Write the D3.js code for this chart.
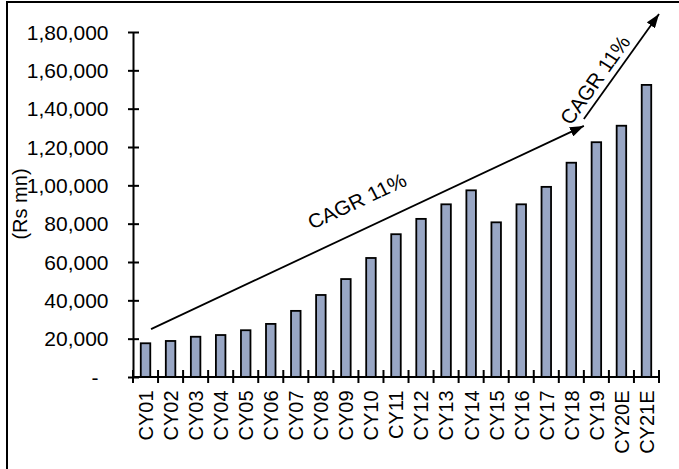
<!DOCTYPE html>
<html>
<head>
<meta charset="utf-8">
<script src="https://cdn.jsdelivr.net/npm/d3@7"></script>
<style>
  html, body { margin: 0; padding: 0; background: #fff; }
  svg { display: block; }
</style>
</head>
<body>
<svg id="chart" width="679" height="469"></svg>
<script>
// Annual revenue, Rs mn (CY20E and CY21E are estimates)
const categories = ["CY01","CY02","CY03","CY04","CY05","CY06","CY07","CY08","CY09","CY10",
  "CY11","CY12","CY13","CY14","CY15","CY16","CY17","CY18","CY19","CY20E","CY21E"];
const revenue = [17600, 18800, 21000, 21900, 24400, 27700, 34500, 42800, 51100, 62100,
  74500, 82500, 90100, 97400, 80700, 90100, 99200, 111800, 122500, 131100, 152400];

const yTicks = [0, 20000, 40000, 60000, 80000, 100000, 120000, 140000, 160000, 180000];
const yTickLabels = ["-", "20,000", "40,000", "60,000", "80,000", "1,00,000", "1,20,000", "1,40,000", "1,60,000", "1,80,000"];
const yTitle = "(Rs mn)";

// Trend arrows in [category position, value] units
const trendArrows = [
  { from: [0.72, 25000], to: [18.0, 131000] },
  { from: [18.0, 134600], to: [21.0, 189400] }
];
const trendLabels = [
  { text: "CAGR 11%", at: [8.94, 91800], arrow: 0 },
  { text: "CAGR 11%", at: [18.45, 155000], arrow: 1 }
];

// Layout & style
const W = 679, H = 469;
const plot = { left: 133, right: 659, top: 32, bottom: 377 };
const FONT = "'Liberation Sans', Arial, Helvetica, sans-serif";
const FS = 20;         // font size
const SX = 1.05;       // horizontal glyph stretch
const barFill = "#98a6c4";

const svg = d3.select("#chart");

const x = d3.scaleBand()
  .domain(categories)
  .range([plot.left, plot.right])
  .paddingInner(0.62)
  .paddingOuter(0.31);

const y = d3.scaleLinear()
  .domain([0, 180000])
  .range([plot.bottom, plot.top]);

// Category position (in band steps) to pixel
const pos = k => x.range()[0] + k * x.step();

// Outer frame
svg.append("rect")
  .attr("x", 7).attr("y", 2)
  .attr("width", W + 20).attr("height", H + 20)
  .attr("fill", "none").attr("stroke", "#000").attr("stroke-width", 2);

// Bars
svg.append("g")
  .selectAll("rect")
  .data(categories.map((c, i) => ({ c, v: revenue[i] })))
  .join("rect")
  .attr("x", d => x(d.c))
  .attr("width", x.bandwidth())
  .attr("y", d => y(d.v))
  .attr("height", d => y(0) - y(d.v))
  .attr("fill", barFill)
  .attr("stroke", "#000")
  .attr("stroke-width", 1.8);

// Y axis
const yAxis = svg.append("g")
  .attr("transform", `translate(${plot.left},0)`)
  .call(d3.axisLeft(y)
    .tickValues(yTicks)
    .tickFormat((d, i) => yTickLabels[i])
    .tickSizeInner(5)
    .tickSizeOuter(0));
yAxis.select(".domain").attr("stroke", "#000").attr("stroke-width", 2);
yAxis.selectAll(".tick line")
  .attr("x1", 6).attr("x2", -5)
  .attr("stroke", "#000").attr("stroke-width", 2);
yAxis.selectAll(".tick text")
  .attr("x", 0)
  .attr("dy", "0.35em")
  .attr("transform", d => `translate(${d === 0 ? -34.5 : -24.5},0) scale(${SX},1)`)
  .attr("fill", "#000")
  .style("font-family", FONT)
  .style("font-size", FS + "px");

// Y axis title
svg.append("text")
  .attr("transform", `translate(27,204) scale(${SX},1) rotate(-90)`)
  .attr("text-anchor", "middle")
  .style("font-family", FONT)
  .style("font-size", FS + "px")
  .attr("fill", "#000")
  .text(yTitle);

// X axis: baseline, boundary ticks, rotated category labels
const xAxis = svg.append("g");
xAxis.append("line")
  .attr("x1", plot.left - 1).attr("x2", plot.right + 1)
  .attr("y1", y(0)).attr("y2", y(0))
  .attr("stroke", "#000").attr("stroke-width", 2);
xAxis.selectAll("line.bound")
  .data(d3.range(categories.length + 1))
  .join("line")
  .attr("class", "bound")
  .attr("x1", k => pos(k)).attr("x2", k => pos(k))
  .attr("y1", y(0) - 7).attr("y2", y(0) + 6)
  .attr("stroke", "#000").attr("stroke-width", 2);
xAxis.selectAll("text")
  .data(categories)
  .join("text")
  .attr("transform", c => `translate(${x(c) + x.bandwidth() / 2},${y(0) + 13.5}) scale(${SX},1) rotate(-90)`)
  .attr("text-anchor", "end")
  .attr("dy", "0.35em")
  .style("font-family", FONT)
  .style("font-size", FS + "px")
  .attr("fill", "#000")
  .text(c => c);

// Arrowhead
svg.append("defs").append("marker")
  .attr("id", "head")
  .attr("markerUnits", "userSpaceOnUse")
  .attr("viewBox", "0 -5 14 10")
  .attr("refX", 14).attr("refY", 0)
  .attr("markerWidth", 14).attr("markerHeight", 10)
  .attr("orient", "auto")
  .append("path")
  .attr("d", "M0,-5L14,0L0,5Z")
  .attr("fill", "#000");

const arrowPts = trendArrows.map(a => ({
  x1: pos(a.from[0]), y1: y(a.from[1]),
  x2: pos(a.to[0]), y2: y(a.to[1])
}));

svg.append("g")
  .selectAll("line")
  .data(arrowPts)
  .join("line")
  .attr("x1", d => d.x1).attr("y1", d => d.y1)
  .attr("x2", d => d.x2).attr("y2", d => d.y2)
  .attr("stroke", "#000").attr("stroke-width", 1.8)
  .attr("marker-end", "url(#head)");

// Trend labels, parallel to their arrows
svg.append("g")
  .selectAll("text")
  .data(trendLabels)
  .join("text")
  .attr("transform", d => {
    const a = arrowPts[d.arrow];
    const t = (a.y2 - a.y1) / (a.x2 - a.x1);
    const ang = Math.atan(t * SX) * 180 / Math.PI;
    return `translate(${pos(d.at[0])},${y(d.at[1])}) scale(${SX},1) rotate(${ang})`;
  })
  .attr("text-anchor", "middle")
  .attr("dy", "0.35em")
  .style("font-family", FONT)
  .style("font-size", FS + "px")
  .attr("fill", "#000")
  .text(d => d.text);
</script>
</body>
</html>
